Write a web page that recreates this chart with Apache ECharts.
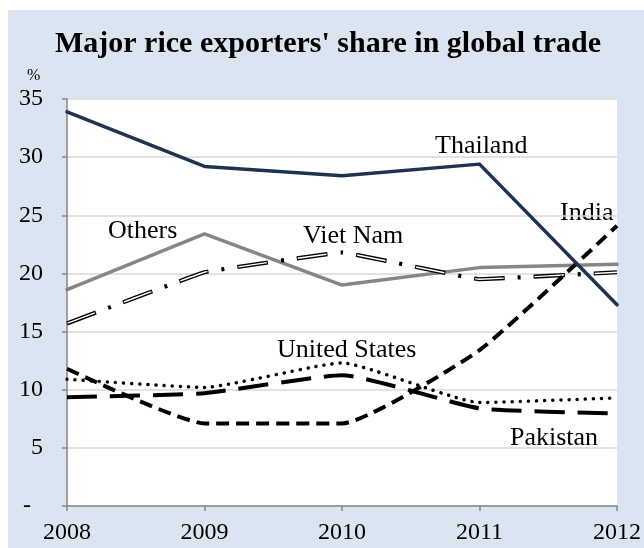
<!DOCTYPE html>
<html>
<head>
<meta charset="utf-8">
<script src="https://cdn.jsdelivr.net/npm/echarts@6/dist/echarts.min.js"></script>
<style>
  html, body { margin: 0; padding: 0; background: #ffffff; }
  #bg { position: absolute; left: 8px; top: 10px; width: 636px; height: 538px; background: #DBE5F1; }
  #chart { position: absolute; left: 0; top: 0; width: 644px; height: 548px; }
</style>
</head>
<body>
<div id="bg"></div>
<div id="chart"></div>
<script>
const years = ['2008', '2009', '2010', '2011', '2012'];
const thailand = [33.9, 29.2, 28.4, 29.4, 17.3];
const others = [18.6, 23.4, 19.0, 20.5, 20.8];
const vietNam = [15.7, 20.1, 21.8, 19.5, 20.1];
const india = [11.8, 7.1, 7.1, 13.4, 24.1];
const unitedStates = [10.9, 10.2, 12.3, 8.9, 9.3];
const pakistan = [9.35, 9.7, 11.25, 8.4, 7.95];
const yTicks = [0, 5, 10, 15, 20, 25, 30, 35];

const serif = 'Liberation Serif';

const chart = echarts.init(document.getElementById('chart'), null, { renderer: 'canvas' });

function lineSeries(name, data, ls, z, sm) {
  return {
    name: name, type: 'line', data: data, smooth: sm, showSymbol: false, symbol: 'none',
    lineStyle: ls, z: z, animation: false, emphasis: { disabled: true }
  };
}

const option = {
  backgroundColor: 'transparent',
  animation: false,
  grid: { left: 67, right: 23, top: 99, bottom: 42, show: true, backgroundColor: '#ffffff', borderWidth: 0 },
  xAxis: {
    type: 'category', data: years, boundaryGap: false,
    axisLine: { lineStyle: { color: '#868686', width: 1.5 } },
    axisTick: { show: true, alignWithLabel: true, length: 5, lineStyle: { color: '#868686', width: 1.5 } },
    axisLabel: { color: '#000', fontFamily: serif, fontSize: 24, margin: 15 },
    splitLine: { show: false }
  },
  yAxis: {
    type: 'value', min: 0, max: 35, interval: 5,
    axisLine: { show: true, lineStyle: { color: '#868686', width: 1.5 } },
    axisTick: { show: true, length: 5, lineStyle: { color: '#868686', width: 1.5 } },
    axisLabel: { color: '#000', fontFamily: serif, fontSize: 24, margin: 24,
      formatter: function (v) { return v === 0 ? '-\u2002' : String(v); } },
    splitLine: { show: true, lineStyle: { color: '#D9D9D9', width: 1.5 } }
  },
  series: [
    lineSeries('Others', others, { color: '#868686', width: 3.5, cap: 'round', join: 'round' }, 2, false),
    lineSeries('Viet Nam', vietNam, { color: '#000000', width: 4.2, type: [31, 13, 3, 13], cap: 'butt' }, 3, 0.05),
    lineSeries('Viet Nam core', vietNam, { color: '#ffffff', width: 1.4, type: [29, 31], dashOffset: -1, cap: 'butt' }, 4, 0.05),
    lineSeries('Pakistan', pakistan, { color: '#000000', width: 4, type: [30, 13], cap: 'butt' }, 5, 0.15),
    lineSeries('United States', unitedStates, { color: '#000000', width: 3.5, type: [0.1, 8], cap: 'round' }, 6, 0.15),
    lineSeries('India', india, { color: '#000000', width: 4, type: [13, 7], cap: 'butt' }, 7, 0.15),
    lineSeries('Thailand', thailand, { color: '#1F3351', width: 3.5, cap: 'round', join: 'round' }, 8, false)
  ],
  graphic: [
    { type: 'text', left: 55, top: 29, style: { text: "Major rice exporters' share in global trade", font: 'bold 30px "Liberation Serif"', fill: '#000' } },
    { type: 'text', left: 27, top: 68, style: { text: '%', font: '16px "Liberation Serif"', fill: '#000' } },
    { type: 'text', left: 435, top: 133, style: { text: 'Thailand', font: '26px "Liberation Serif"', fill: '#000' } },
    { type: 'text', left: 560, top: 200, style: { text: 'India', font: '26px "Liberation Serif"', fill: '#000' } },
    { type: 'text', left: 108, top: 218, style: { text: 'Others', font: '26px "Liberation Serif"', fill: '#000' } },
    { type: 'text', left: 303, top: 223, style: { text: 'Viet Nam', font: '26px "Liberation Serif"', fill: '#000' } },
    { type: 'text', left: 277, top: 337, style: { text: 'United States', font: '26px "Liberation Serif"', fill: '#000' } },
    { type: 'text', left: 510, top: 425, style: { text: 'Pakistan', font: '26px "Liberation Serif"', fill: '#000' } }
  ]
};
chart.setOption(option);
</script>
</body>
</html>
